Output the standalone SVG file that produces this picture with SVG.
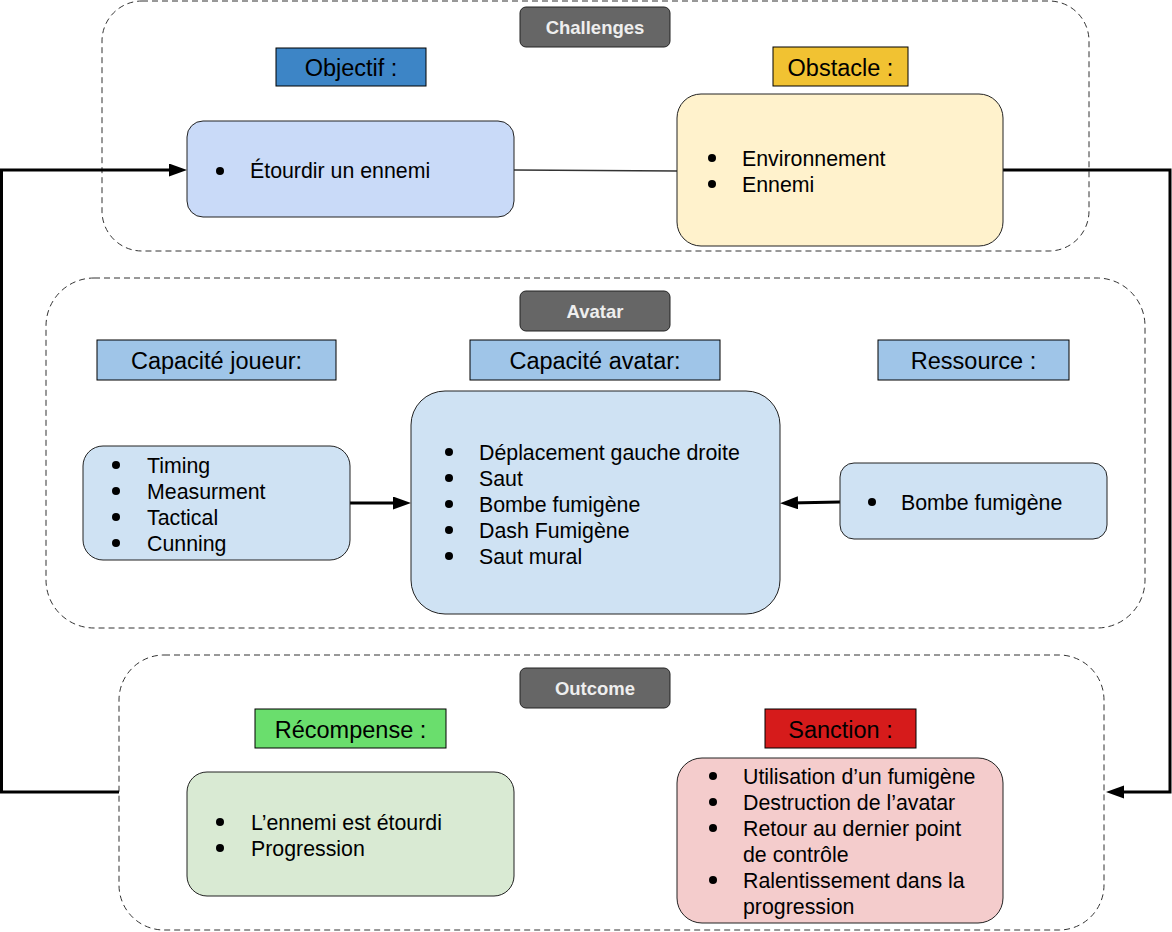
<svg xmlns="http://www.w3.org/2000/svg" width="1172" height="932" viewBox="0 0 1172 932">
<style>
.cont{fill:none;stroke:#333;stroke-width:1;stroke-dasharray:6 4}
.badge{fill:#666;stroke:#222;stroke-width:1}
.btxt{font-family:"Liberation Sans",Arial,sans-serif;font-weight:bold;font-size:18.5px;fill:#eee;text-anchor:middle}
.ttl{font-family:"Liberation Sans",Arial,sans-serif;font-size:23.5px;fill:#000;text-anchor:middle}
.tbox{stroke:#000;stroke-width:1}
.node{stroke:#222;stroke-width:1}
.li{font-family:"Liberation Sans",Arial,sans-serif;font-size:21.33px;fill:#000}
.blt{fill:#000}
.conn{fill:none;stroke:#000;stroke-width:3}
.thin{fill:none;stroke:#333;stroke-width:1.5}
</style>
<defs>
<marker id="arr" markerUnits="userSpaceOnUse" markerWidth="20" markerHeight="14" refX="8" refY="6.5" orient="auto">
<path d="M0,0 L18,6.5 L0,13 Z" fill="#000"/>
</marker>
</defs>
<rect width="1172" height="932" fill="#fff"/>

<g id="challenges">
<rect class="cont" x="102" y="1" width="987" height="250" rx="40"/>
<rect class="badge" x="520" y="7" width="150" height="40" rx="6"/>
<text class="btxt" x="595" y="34">Challenges</text>
</g>
<g id="avatar">
<rect class="cont" x="46" y="278" width="1099" height="350" rx="48"/>
<rect class="badge" x="520" y="291" width="150" height="40" rx="6"/>
<text class="btxt" x="595" y="318">Avatar</text>
</g>
<g id="outcome">
<rect class="cont" x="119" y="655" width="985" height="275" rx="45"/>
<rect class="badge" x="520" y="668" width="150" height="40" rx="6"/>
<text class="btxt" x="595" y="695">Outcome</text>
</g>

<g id="connectors">
<path class="thin" d="M514,170 L677,171"/>
<path class="conn" d="M1003,170 L1170,170 L1170,792 L1116,792" marker-end="url(#arr)"/>
<path class="conn" d="M119,792 L1.5,792 L1.5,170 L177,170" marker-end="url(#arr)"/>
<path class="conn" d="M350,503 L401,503" marker-end="url(#arr)"/>
<path class="conn" d="M840,502 L790,503" marker-end="url(#arr)"/>
</g>

<g id="objectif-title">
<rect class="tbox" x="276" y="48" width="150" height="38" fill="#3d85c6"/>
<text class="ttl" x="351" y="76">Objectif :</text>
</g>
<g id="obstacle-title">
<rect class="tbox" x="773" y="47" width="135" height="39" fill="#f1c232"/>
<text class="ttl" x="840.5" y="76">Obstacle :</text>
</g>
<g id="objectif">
<rect class="node" x="187" y="121" width="327" height="96" rx="16" fill="#c9daf8"/>
<circle class="blt" cx="220" cy="171" r="4"/>
<text class="li" x="250" y="177.5">Étourdir un ennemi</text>
</g>
<g id="obstacle">
<rect class="node" x="677" y="94" width="326" height="152" rx="24" fill="#fff2cc"/>
<circle class="blt" cx="712" cy="158" r="4"/>
<text class="li" x="742" y="165.5">Environnement</text>
<circle class="blt" cx="712" cy="184" r="4"/>
<text class="li" x="742" y="191.5">Ennemi</text>
</g>

<g id="capacite-joueur-title">
<rect class="tbox" x="97" y="340" width="239" height="40" fill="#9fc5e8"/>
<text class="ttl" x="216.5" y="369">Capacité joueur:</text>
</g>
<g id="capacite-avatar-title">
<rect class="tbox" x="470" y="340" width="250" height="40" fill="#9fc5e8"/>
<text class="ttl" x="595" y="369">Capacité avatar:</text>
</g>
<g id="ressource-title">
<rect class="tbox" x="878" y="340" width="191" height="40" fill="#9fc5e8"/>
<text class="ttl" x="973.5" y="369">Ressource :</text>
</g>
<g id="capacite-joueur">
<rect class="node" x="83" y="446" width="267" height="114" rx="20" fill="#cfe2f3"/>
<circle class="blt" cx="116" cy="465" r="4"/>
<text class="li" x="147" y="472.5">Timing</text>
<circle class="blt" cx="116" cy="491" r="4"/>
<text class="li" x="147" y="498.5">Measurment</text>
<circle class="blt" cx="116" cy="517" r="4"/>
<text class="li" x="147" y="524.5">Tactical</text>
<circle class="blt" cx="116" cy="543" r="4"/>
<text class="li" x="147" y="550.5">Cunning</text>
</g>
<g id="capacite-avatar">
<rect class="node" x="411" y="391" width="369" height="223" rx="34" fill="#cfe2f3"/>
<circle class="blt" cx="449" cy="452" r="4"/>
<text class="li" x="479" y="459.5">Déplacement gauche droite</text>
<circle class="blt" cx="449" cy="478" r="4"/>
<text class="li" x="479" y="485.5">Saut</text>
<circle class="blt" cx="449" cy="504" r="4"/>
<text class="li" x="479" y="511.5">Bombe fumigène</text>
<circle class="blt" cx="449" cy="530" r="4"/>
<text class="li" x="479" y="537.5">Dash Fumigène</text>
<circle class="blt" cx="449" cy="556" r="4"/>
<text class="li" x="479" y="563.5">Saut mural</text>
</g>
<g id="ressource">
<rect class="node" x="840" y="463" width="267" height="76" rx="14" fill="#cfe2f3"/>
<circle class="blt" cx="872" cy="502" r="4"/>
<text class="li" x="901" y="509.5">Bombe fumigène</text>
</g>

<g id="recompense-title">
<rect class="tbox" x="255" y="709" width="191" height="39" fill="#6ade6d"/>
<text class="ttl" x="350.5" y="737.5">Récompense :</text>
</g>
<g id="sanction-title">
<rect class="tbox" x="765" y="709" width="151" height="39" fill="#d61b1b"/>
<text class="ttl" x="840.5" y="737.5">Sanction :</text>
</g>
<g id="recompense">
<rect class="node" x="187" y="772" width="327" height="124" rx="20" fill="#d9ead3"/>
<circle class="blt" cx="220" cy="822" r="4"/>
<text class="li" x="251" y="829.5">L’ennemi est étourdi</text>
<circle class="blt" cx="220" cy="848" r="4"/>
<text class="li" x="251" y="855.5">Progression</text>
</g>
<g id="sanction">
<rect class="node" x="677" y="758" width="326" height="165" rx="25" fill="#f4cccc"/>
<circle class="blt" cx="713" cy="776" r="4"/>
<text class="li" x="743" y="783.5">Utilisation d’un fumigène</text>
<circle class="blt" cx="713" cy="802" r="4"/>
<text class="li" x="743" y="809.5">Destruction de l’avatar</text>
<circle class="blt" cx="713" cy="828" r="4"/>
<text class="li" x="743" y="835.5">Retour au dernier point</text>
<text class="li" x="743" y="861.5">de contrôle</text>
<circle class="blt" cx="713" cy="880" r="4"/>
<text class="li" x="743" y="887.5">Ralentissement dans la</text>
<text class="li" x="743" y="913.5">progression</text>
</g>
</svg>
